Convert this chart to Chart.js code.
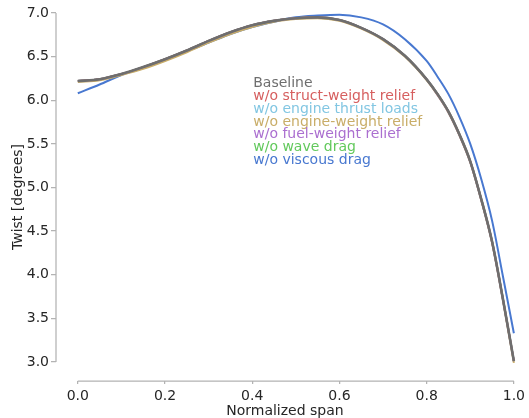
<!DOCTYPE html>
<html>
<head>
<meta charset="utf-8">
<script src="https://cdn.jsdelivr.net/npm/chart.js@4"></script>
<style>
  html, body { margin: 0; padding: 0; background: #fff; }
  #wrap { width: 529px; height: 418px; }
</style>
</head>
<body>
<div id="wrap"><canvas id="chart1" width="529" height="418"></canvas></div>
<script>
// normalized span stations
const span = [0.00, 0.05, 0.10, 0.15, 0.20, 0.25, 0.30, 0.35, 0.40, 0.45, 0.50,
              0.55, 0.60, 0.65, 0.70, 0.75, 0.80, 0.825, 0.85, 0.875, 0.90, 0.925,
              0.95, 0.975, 1.00];

// twist [deg] per case
const baseline   = [6.22, 6.24, 6.30, 6.38, 6.47, 6.57, 6.68, 6.78, 6.86, 6.91, 6.94,
                    6.95, 6.92, 6.83, 6.70, 6.51, 6.24, 6.07, 5.87, 5.61, 5.30, 4.87,
                    4.38, 3.72, 3.01];
const noStructWt = [6.22, 6.24, 6.30, 6.38, 6.47, 6.57, 6.68, 6.78, 6.86, 6.91, 6.94,
                    6.95, 6.92, 6.83, 6.70, 6.51, 6.24, 6.07, 5.87, 5.61, 5.30, 4.87,
                    4.38, 3.72, 3.01];
const noThrust   = [6.22, 6.24, 6.30, 6.38, 6.47, 6.57, 6.68, 6.78, 6.86, 6.91, 6.94,
                    6.95, 6.92, 6.83, 6.70, 6.51, 6.24, 6.07, 5.87, 5.61, 5.30, 4.87,
                    4.38, 3.72, 3.01];
const noEngineWt = [6.21, 6.23, 6.29, 6.36, 6.45, 6.55, 6.66, 6.76, 6.84, 6.90, 6.93,
                    6.94, 6.91, 6.82, 6.69, 6.50, 6.23, 6.06, 5.86, 5.60, 5.29, 4.86,
                    4.37, 3.71, 2.99];
const noFuelWt   = [6.22, 6.24, 6.30, 6.38, 6.47, 6.57, 6.68, 6.78, 6.86, 6.91, 6.94,
                    6.95, 6.92, 6.83, 6.70, 6.51, 6.24, 6.06, 5.86, 5.60, 5.29, 4.86,
                    4.37, 3.71, 3.01];
const noWaveDrag = [6.22, 6.24, 6.30, 6.38, 6.47, 6.57, 6.68, 6.78, 6.86, 6.91, 6.94,
                    6.95, 6.92, 6.83, 6.70, 6.51, 6.24, 6.07, 5.87, 5.61, 5.30, 4.87,
                    4.38, 3.72, 3.01];
const noViscDrag = [6.08, 6.18, 6.29, 6.37, 6.46, 6.56, 6.66, 6.76, 6.84, 6.90, 6.95,
                    6.97, 6.98, 6.95, 6.87, 6.70, 6.45, 6.27, 6.07, 5.81, 5.50, 5.10,
                    4.62, 3.98, 3.33];

const caseNames = ['Baseline', 'w/o struct-weight relief', 'w/o engine thrust loads',
                   'w/o engine-weight relief', 'w/o fuel-weight relief', 'w/o wave drag',
                   'w/o viscous drag'];
const caseData = [baseline, noStructWt, noThrust, noEngineWt, noFuelWt, noWaveDrag, noViscDrag];
const caseColors = ['#6e6e6e', '#d65f5f', '#82c6e2', '#c9ad68', '#ab6fd0', '#62c95c', '#4878d0'];

const xTicks = [0.0, 0.2, 0.4, 0.6, 0.8, 1.0];
const yTicks = [3.0, 3.5, 4.0, 4.5, 5.0, 5.5, 6.0, 6.5, 7.0];

const FONT = 'DejaVu Sans';
const spineColor = '#b3b3b3';

// legend as colored text block, anchored in data coords
const textLegend = {
  id: 'textLegend',
  afterDatasetsDraw(chart) {
    const ctx = chart.ctx;
    const x = chart.scales.x.getPixelForValue(0.4) + 1;
    const y0 = chart.scales.y.getPixelForValue(6.2) + 1;
    ctx.save();
    ctx.font = '14px "' + FONT + '"';
    ctx.textBaseline = 'middle';
    ctx.textAlign = 'left';
    chart.data.datasets.forEach((ds, i) => {
      ctx.fillStyle = ds.borderColor;
      ctx.fillText(ds.label, x, y0 + i * 12.7);
    });
    ctx.restore();
  }
};

// trimmed, offset spines (only between first and last tick)
const spines = {
  id: 'spines',
  beforeDatasetsDraw(chart) {
    const {ctx, chartArea, scales} = chart;
    ctx.save();
    ctx.strokeStyle = spineColor;
    ctx.lineWidth = 1.25;
    ctx.beginPath();
    ctx.moveTo(scales.x.getPixelForValue(xTicks[0]), chartArea.bottom);
    ctx.lineTo(scales.x.getPixelForValue(xTicks[xTicks.length - 1]), chartArea.bottom);
    ctx.moveTo(chartArea.left, scales.y.getPixelForValue(yTicks[0]));
    ctx.lineTo(chartArea.left, scales.y.getPixelForValue(yTicks[yTicks.length - 1]));
    ctx.stroke();
    ctx.restore();
  }
};

const datasets = caseNames.map((name, i) => ({
  label: name,
  data: span.map((s, j) => ({x: s, y: caseData[i][j]})),
  borderColor: caseColors[i],
  backgroundColor: caseColors[i],
  borderWidth: i === 0 ? 2.6 : 2,
  pointRadius: 0,
  cubicInterpolationMode: 'monotone',
  fill: false,
  clip: false
}));

const canvas = document.getElementById('chart1');
const context = canvas.getContext('2d');

new Chart(context, {
  type: 'line',
  data: { datasets: datasets },
  options: {
    responsive: false,
    animation: false,
    devicePixelRatio: 1,
    layout: { padding: { top: 13, right: 11, left: 0, bottom: 0 } },
    plugins: {
      legend: { display: false },
      tooltip: { enabled: false }
    },
    scales: {
      x: {
        type: 'linear',
        min: -0.05,
        max: 1.0,
        afterBuildTicks: (scale) => { scale.ticks = xTicks.map(v => ({value: v})); },
        afterFit: (scale) => { scale.height = 37; },
        border: { display: false },
        grid: { drawOnChartArea: false, drawTicks: true, tickLength: 3, color: spineColor, lineWidth: 1.25 },
        ticks: {
          padding: 4,
          color: '#262626',
          font: { family: FONT, size: 14 },
          maxRotation: 0,
          callback: (v) => Number(v).toFixed(1)
        },
        title: {
          display: true,
          text: 'Normalized span',
          color: '#262626',
          font: { family: FONT, size: 14 },
          padding: { top: 0, bottom: -2 }
        }
      },
      y: {
        type: 'linear',
        min: 2.782,
        max: 7.0,
        afterBuildTicks: (scale) => { scale.ticks = yTicks.map(v => ({value: v})); },
        afterFit: (scale) => { scale.width = 56; },
        border: { display: false },
        grid: { drawOnChartArea: false, drawTicks: true, tickLength: 5, color: spineColor, lineWidth: 1.25 },
        ticks: {
          padding: 2,
          color: '#262626',
          font: { family: FONT, size: 14 },
          callback: (v) => Number(v).toFixed(1)
        },
        title: {
          display: true,
          text: 'Twist [degrees]',
          color: '#262626',
          font: { family: FONT, size: 14 },
          padding: { top: 10, bottom: 0 }
        }
      }
    }
  },
  plugins: [spines, textLegend]
});
</script>
</body>
</html>
